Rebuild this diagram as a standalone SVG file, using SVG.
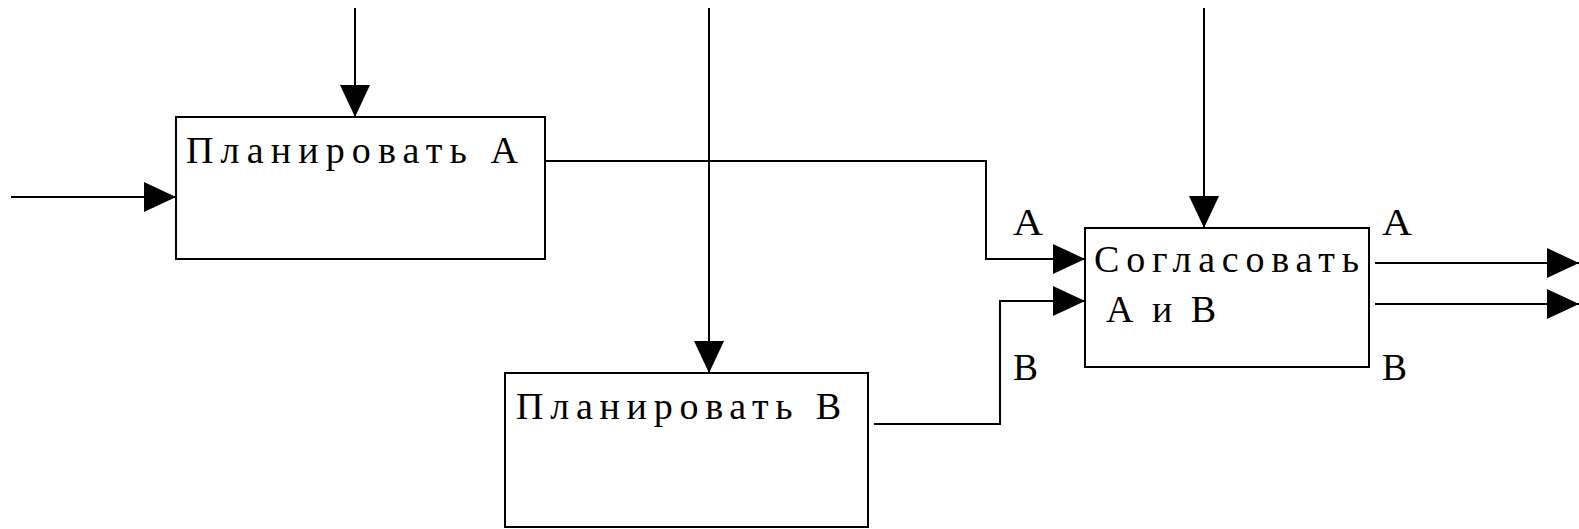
<svg xmlns="http://www.w3.org/2000/svg" width="1579" height="529" viewBox="0 0 1579 529">
<style>
.box{fill:#fff;stroke:#000;stroke-width:2}
.ln{fill:none;stroke:#000;stroke-width:2}
.t{font-family:"Liberation Serif","DejaVu Serif",serif;font-size:38px;fill:#000}
</style>
<defs>
<marker id="ah" markerUnits="userSpaceOnUse" markerWidth="32" markerHeight="30" refX="32" refY="15" orient="auto">
<path d="M0,0 L32,15 L0,30 Z" fill="#000"/>
</marker>
</defs>
<rect width="1579" height="529" fill="#fff"/>
<g id="connectors">
<path class="ln" d="M355,8 V117" marker-end="url(#ah)"/>
<path class="ln" d="M11,197 H176" marker-end="url(#ah)"/>
<path class="ln" d="M709,8 V373" marker-end="url(#ah)"/>
<path class="ln" d="M1204,8 V228" marker-end="url(#ah)"/>
<path class="ln" d="M546,161 H986 V259 H1085" marker-end="url(#ah)"/>
<path class="ln" d="M874,424 H1000 V301 H1085" marker-end="url(#ah)"/>
<path class="ln" d="M1375,263 H1579" marker-end="url(#ah)"/>
<path class="ln" d="M1375,304 H1579" marker-end="url(#ah)"/>
<text class="t" x="1013" y="235" textLength="30" lengthAdjust="spacingAndGlyphs">А</text>
<text class="t" x="1013" y="380" textLength="25" lengthAdjust="spacingAndGlyphs">В</text>
<text class="t" x="1382" y="235" textLength="30" lengthAdjust="spacingAndGlyphs">А</text>
<text class="t" x="1382" y="380" textLength="25" lengthAdjust="spacingAndGlyphs">В</text>
</g>
<g id="planA">
<rect class="box" x="176" y="117" width="369" height="142"/>
<text class="t" x="186" y="163" textLength="332" lengthAdjust="spacing">Планировать А</text>
</g>
<g id="planB">
<rect class="box" x="505" y="373" width="363" height="154"/>
<text class="t" x="516" y="419" textLength="325" lengthAdjust="spacing">Планировать В</text>
</g>
<g id="agree">
<rect class="box" x="1085" y="228" width="284" height="139"/>
<text class="t" x="1094" y="272" textLength="265" lengthAdjust="spacing">Согласовать</text>
<text class="t" x="1106" y="322" textLength="110" lengthAdjust="spacing">А и В</text>
</g>
</svg>
